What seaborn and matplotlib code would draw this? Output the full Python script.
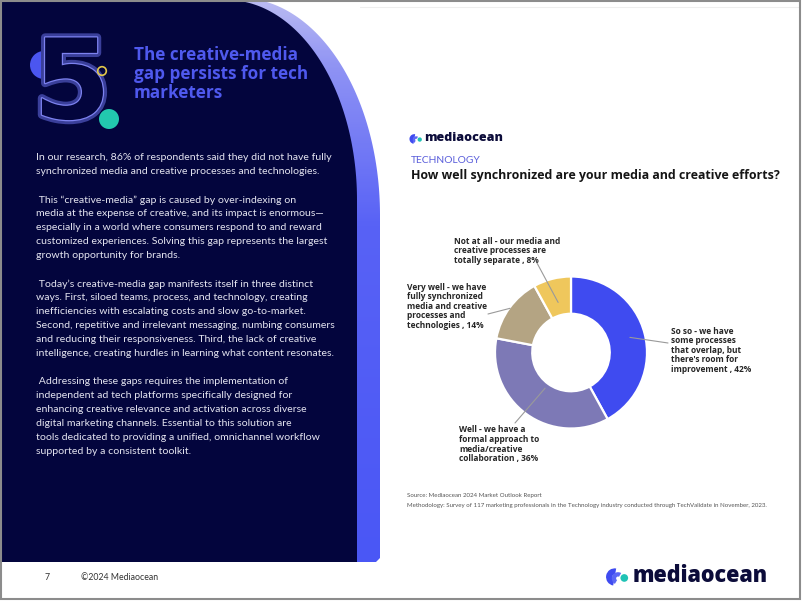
import numpy as np
import matplotlib
matplotlib.use("Agg")
import matplotlib.pyplot as plt
import seaborn as sns
from matplotlib.path import Path
from matplotlib.patches import PathPatch, Circle, Wedge, Rectangle
import matplotlib.patheffects as pe

# ---------------- data ----------------
categories = [
    "So so - we have\nsome processes\nthat overlap, but\nthere's room for\nimprovement , 42%",
    "Well - we have a\nformal approach to\nmedia/creative\ncollaboration , 36%",
    "Very well - we have\nfully synchronized\nmedia and creative\nprocesses and\ntechnologies , 14%",
    "Not at all - our media and\ncreative processes are\ntotally separate , 8%",
]
values = [42, 36, 14, 8]
colors = ["#3F4BF0", "#7D79B6", "#B4A483", "#EFC75C"]

title_lines = ["The creative-media", "gap persists for tech", "marketers"]
paragraphs = [
    ["In our research, 86% of respondents said they did not have fully",
     "synchronized media and creative processes and technologies."],
    [" This \u201ccreative-media\u201d gap is caused by over-indexing on",
     "media at the expense of creative, and its impact is enormous\u2014",
     "especially in a world where consumers respond to and reward",
     "customized experiences. Solving this gap represents the largest",
     "growth opportunity for brands."],
    [" Today\u2019s creative-media gap manifests itself in three distinct",
     "ways. First, siloed teams, process, and technology, creating",
     "inefficiencies with escalating costs and slow go-to-market.",
     "Second, repetitive and irrelevant messaging, numbing consumers",
     "and reducing their responsiveness. Third, the lack of creative",
     "intelligence, creating hurdles in learning what content resonates."],
    [" Addressing these gaps requires the implementation of",
     "independent ad tech platforms specifically designed for",
     "enhancing creative relevance and activation across diverse",
     "digital marketing channels. Essential to this solution are",
     "tools dedicated to providing a unified, omnichannel workflow",
     "supported by a consistent toolkit."],
]
source_lines = ["Source: Mediaocean 2024 Market Outlook Report",
                "Methodology: Survey of 117 marketing professionals in the Technology industry conducted through TechValidate in November, 2023."]

sns.set_theme(style="white")
plt.rcParams["font.family"] = ["Lato", "DejaVu Sans"]
BOLDFAM = ["Open Sans", "DejaVu Sans"]

W, H = 802, 601
fig = plt.figure(figsize=(W / 100, H / 100), dpi=100)
fig.patch.set_facecolor("white")
page = fig.add_axes([0, 0, 1, 1])
page.set_xlim(0, W)
page.set_ylim(H, 0)
page.axis("off")

NAVY = "#03053D"

# ---------------- left panel with gradient band ----------------
t0 = np.arccos(215 / 217.0)
t = np.linspace(t0, np.pi / 2, 80)
ox = 240 + 140 * np.sin(t)
oy = 215 - 217 * np.cos(t)
outer_pts = [(0, 0)] + list(zip(ox, oy)) + [(380, 558), (376, 562), (0, 562), (0, 0)]
band_patch = PathPatch(Path(outer_pts), facecolor="none", edgecolor="none")
page.add_patch(band_patch)
grad = np.linspace(0, 1, 300).reshape(-1, 1)
cmap = matplotlib.colors.LinearSegmentedColormap.from_list(
    "band", [(0, "#B9BAF2"), (0.12, "#8E92F4"), (0.4, "#5862F6"), (1, "#4A57F5")])
im = page.imshow(grad, extent=(0, 381, 562, 0), cmap=cmap, aspect="auto", zorder=1)
im.set_clip_path(band_patch)

t = np.linspace(0, np.pi / 2, 80)
nx = 227 + 130 * np.sin(t)
ny = 200 - 200 * np.cos(t)
navy_pts = [(0, 0)] + list(zip(nx, ny)) + [(357, 562), (0, 562), (0, 0)]
page.add_patch(PathPatch(Path(navy_pts), facecolor=NAVY, edgecolor="none", zorder=2))

# "5" graphic
page.add_patch(Wedge((44, 65), 14, 90, 270, facecolor="#4B56F0", edgecolor="none", zorder=3))
page.text(72, 88, "5", fontsize=80, fontweight="bold", family="DejaVu Sans",
          color=NAVY, ha="center", va="center", zorder=4,
          path_effects=[pe.withStroke(linewidth=6, foreground="#3A3F9A"),
                        pe.Stroke(linewidth=1.8, foreground="#7D82F0"), pe.Normal()])
page.add_patch(Circle((102, 71), 4.3, facecolor="none", edgecolor="#E3C84A", lw=1.2, zorder=5))
page.add_patch(Circle((109, 119), 10, facecolor="#22C9AE", edgecolor="none", zorder=5))

for i, line in enumerate(title_lines):
    page.text(134, 55 + i * 19, line, fontsize=12.3, fontweight="bold", color="#4F59EE",
              ha="left", va="center", zorder=5, family=BOLDFAM)

y = 158
for para in paragraphs:
    for line in para:
        page.text(36, y, line, fontsize=7.55, color="#E4E4F0", ha="left", va="center", zorder=5)
        y += 14
    y += 14

# footer
page.text(47, 577, "7", fontsize=6.3, color="#333333", ha="center", va="center")
page.text(81, 577, "\u00a92024 Mediaocean", fontsize=6.3, color="#333333", ha="left", va="center")

# page border & faint line
page.plot([360, 800], [7, 7], color="#EEEEEE", lw=0.8, zorder=0)
page.add_patch(Rectangle((0.5, 0.5), W - 2.5, H - 3, facecolor="none", edgecolor="#8C8C8C", lw=1.5, zorder=10))

# ---------------- logos ----------------
def logo(x, y, s, fs):
    page.add_patch(Wedge((x + 3.2 * s, y), 3.6 * s, 100, 280, width=2.6 * s,
                         facecolor="#3F4BF0", edgecolor="none", zorder=6))
    page.add_patch(Wedge((x + 4.6 * s, y + 0.6 * s), 2.6 * s, 120, 300, width=1.8 * s,
                         facecolor="#5A66F5", edgecolor="none", zorder=6))
    page.add_patch(Circle((x + 7.2 * s, y + 0.4 * s), 1.6 * s, facecolor="#20C2B5",
                          edgecolor="none", zorder=6))
    page.text(x + 10.5 * s, y - 0.6 * s, "mediaocean", fontsize=fs, fontweight="heavy",
              color="#0C0C3A", ha="left", va="center", zorder=6, family=BOLDFAM)

logo(410, 139, 1.35, 9.0)
logo(607, 577, 2.4, 15.5)

# ---------------- chart header ----------------
page.text(411, 160.5, "TECHNOLOGY", fontsize=7.4, color="#5A5EDB", ha="left", va="center")
page.text(411, 176, "How well synchronized are your media and creative efforts?",
          fontsize=8.9, fontweight="bold", color="#151515", ha="left", va="center",
          family=BOLDFAM)

for i, line in enumerate(source_lines):
    page.text(407, 496 + i * 10, line, fontsize=4.4, color="#555555", ha="left", va="center")

# ---------------- donut ----------------
cx, cy, R = 571, 352.5, 76.0
box = 100
ax = fig.add_axes([(cx - box) / W, (H - cy - box) / H, 2 * box / W, 2 * box / H])
wedges, _ = ax.pie(values, colors=colors, startangle=90, counterclock=False, radius=1,
                   wedgeprops=dict(width=0.49, edgecolor="white", linewidth=1.6))
ax.set_xlim(-box / R, box / R)
ax.set_ylim(-box / R, box / R)
ax.axis("off")

# label layout: (text x, first line center y, leader radius, leader end x, leader end y)
layout = [
    (671, 331, 0.80, 668, 343),
    (459, 430, 0.58, 515, 423),
    (407, 287, 0.99, 488, 314),
    (454, 241, 0.68, 537, 263),
]
cum = np.cumsum([0] + values[:-1])
tot = float(sum(values))
for k, (lab, v) in enumerate(zip(categories, values)):
    tx, ty, rr, ex, ey = layout[k]
    mid = np.deg2rad((cum[k] + v / 2) / tot * 360)
    sx, sy = rr * np.sin(mid), rr * np.cos(mid)
    ax.annotate("", xy=(sx, sy), xycoords="data", xytext=(ex, ey), textcoords=page.transData,
                arrowprops=dict(arrowstyle="-", color="#9A9A9A", lw=0.8,
                                shrinkA=0, shrinkB=0), annotation_clip=False)
    for i, line in enumerate(lab.split("\n")):
        page.text(tx, ty + i * 9.6, line, fontsize=6.0, fontweight="bold", color="#262626",
                  ha="left", va="center", family=BOLDFAM, zorder=7)

fig.savefig("out.png", dpi=100, facecolor="white")
